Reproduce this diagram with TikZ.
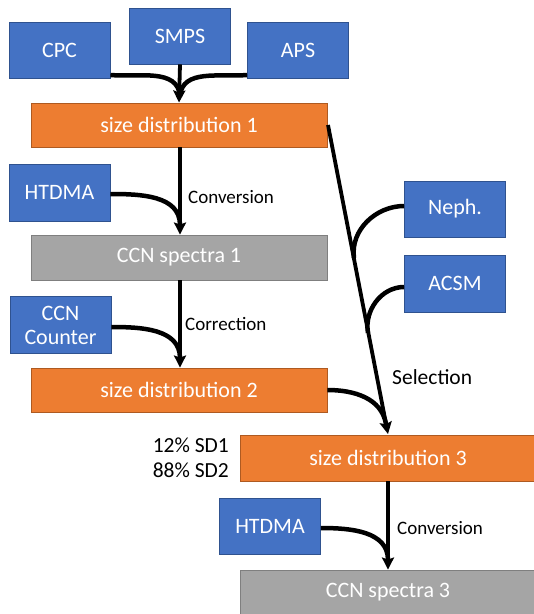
\documentclass[tikz,border=0pt]{standalone}
\usepackage{fontspec}
\setmainfont{Carlito}
\usetikzlibrary{arrows.meta}
\definecolor{bfill}{HTML}{4472C4}
\definecolor{bdraw}{HTML}{2F528F}
\definecolor{ofill}{HTML}{ED7D31}
\definecolor{odraw}{HTML}{AE5A21}
\definecolor{gfill}{HTML}{A5A5A5}
\definecolor{gdraw}{HTML}{7F7F7F}
\tikzset{
  box/.style={rectangle, inner sep=0pt, line width=0.9pt, text=white, font=\fontsize{22}{26}\selectfont, align=center},
  instr/.style={box, fill=bfill, draw=bdraw, minimum width=101pt, minimum height=56pt},
  sdbox/.style={box, fill=ofill, draw=odraw, minimum width=296pt, minimum height=44pt},
  ccnbox/.style={box, fill=gfill, draw=gdraw, minimum width=296pt, minimum height=45pt},
  conn/.style={line width=4.5pt},
  arr/.style={line width=3.8pt, -{Stealth[length=12pt,width=12pt,inset=2pt]}},
  small/.style={font=\fontsize{19}{22}\selectfont, inner sep=0pt},
  big/.style={font=\fontsize{21.5}{26}\selectfont, inner sep=0pt},
}
\begin{document}
\begin{tikzpicture}[x=1pt,y=-1pt]
\useasboundingbox (0,0) rectangle (534,614);
\begin{scope}
\clip (0,0) rectangle (534,614);
% nodes
\node[instr] (cpc) at (59.5,50) {CPC};
\node[instr] (smps) at (180,36) {SMPS};
\node[instr] (aps) at (298,50) {APS};
\node[sdbox] (sd1) at (179,125) {size distribution 1};
\node[instr, minimum height=57pt] (htdma1) at (59.5,192.5) {HTDMA};
\node[ccnbox] (ccn1) at (179,257.5) {CCN spectra 1};
\node[instr, minimum height=57pt, font=\fontsize{22}{24}\selectfont] (ccnc) at (60.5,325) {CCN\\Counter};
\node[sdbox] (sd2) at (179,390) {size distribution 2};
\node[instr] (neph) at (455,209) {Neph.};
\node[instr, minimum height=57pt] (acsm) at (455,283.5) {ACSM};
\node[sdbox, minimum height=46pt] (sd3) at (388,458) {size distribution 3};
\node[instr] (htdma2) at (270,526) {HTDMA};
\node[ccnbox] (ccn3) at (388,592.5) {CCN spectra 3};
% coordinates
\coordinate (m1) at (180,96);
\coordinate (s1) at (328,125);
\coordinate (sel) at (388,434);
\coordinate (j1) at (354,258);
\coordinate (j2) at (368,333);
\coordinate (e2) at (386,424);
\coordinate (m3) at (388,560);
\coordinate (m2) at (180,225);
\coordinate (m4) at (180,358);
% top merge
\draw[conn] (cpc.east |- 0,75) to[out=-5,in=95] (m1);
\draw[conn] (aps.west |- 0,75) to[out=185,in=85] (m1);
\draw[arr] (smps.south) -- (sd1.north);
% column 1
\draw[conn] (htdma1.east |- 0,194) to[out=0,in=90] (m2);
\draw[arr] (sd1.south -| 180,0) -- (ccn1.north -| 180,0);
\draw[conn] (ccnc.east |- 0,327) to[out=0,in=90] (m4);
\draw[arr] (ccn1.south -| 180,0) -- (sd2.north -| 180,0);
% selection
\draw[conn] (neph.west |- 0,206) to[out=180,in=98] (j1);
\draw[conn] (acsm.west |- 0,287) to[out=180,in=100] (j2);
\draw[conn] (sd2.east) to[out=0,in=100] (e2);
\draw[arr] (s1) -- (sel);
% bottom
\draw[conn] (htdma2.east |- 0,528) to[out=0,in=90] (m3);
\draw[arr] (sd3.south) -- (ccn3.north);
% labels
\node[small, anchor=west] (lconv1) at (188,197) {Conversion};
\node[small, anchor=west] (lcorr) at (185,324) {Correction};
\node[big, anchor=west] (lsel) at (392,377) {Selection};
\node[small, anchor=west] (lconv2) at (397,528) {Conversion};
\node[big, anchor=east] (lsd1) at (229,445) {12\% SD1};
\node[big, anchor=east] (lsd2) at (229,470) {88\% SD2};
\end{scope}
\end{tikzpicture}
\end{document}
